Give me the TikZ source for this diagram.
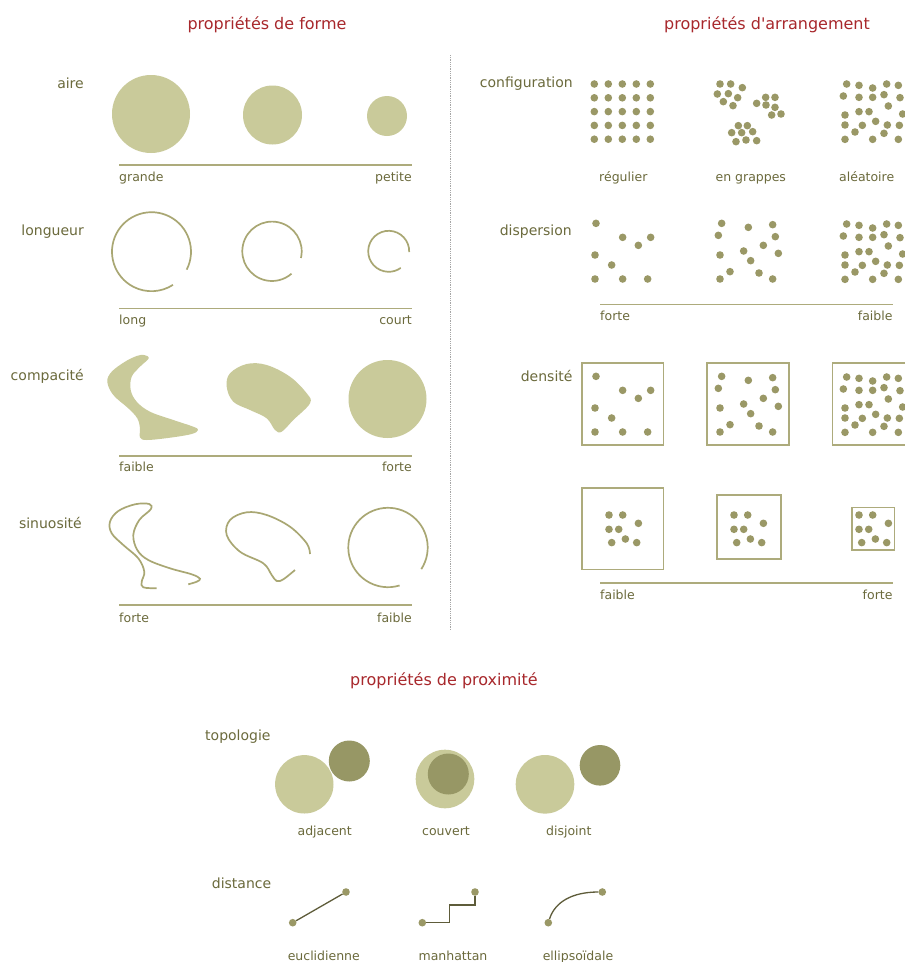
\documentclass[tikz,border=0pt]{standalone}
\usepackage{fontspec}
\setmainfont{DejaVu Sans}
\definecolor{txt}{HTML}{6B6A3C}
\definecolor{ttlc}{HTML}{A8282C}
\definecolor{lightf}{HTML}{C9CA9A}
\definecolor{dotc}{HTML}{9A9866}
\definecolor{darkf}{HTML}{979765}
\definecolor{barc}{HTML}{ADAB7C}
\definecolor{linec}{HTML}{A9A773}
\definecolor{distc}{HTML}{5E5C3A}
\newcommand\patA{%
  \foreach \p in {(80,72),(117,76),(158,84),(200,72),(235,76),(70,108),(117,112),(158,112),(192,104),(240,113),(205,138),(75,165),(117,155),(147,155),(248,162),(75,195),(127,196),(167,184),(202,195),(238,196),(105,216),(192,220),(75,238),(158,238),(235,238)}
    \fill[dotc] \p circle (3.8pt);}
\newcommand\patDone{%
  \foreach \p in {(408,70),(488,112),(572,112),(535,136),(405,165),(455,195),(405,237),(488,237),(563,237)}
    \fill[dotc] \p circle (3.8pt);}
\newcommand\patDtwo{%
  \foreach \p in {(785,70),(865,82),(938,74),(775,106),(946,110),(910,136),(851,153),(780,165),(955,160),(872,182),(810,215),(897,219),(780,237),(938,237)}
    \fill[dotc] \p circle (3.8pt);}
\newcommand\patP{%
  \foreach \p in {(-14.7,-13.8),(-1,-13.8),(14.7,-5.5),(-14.7,0.5),(-5,0.5),(-12,13.8),(1.7,10.2),(13,13.8)}
    \fill[dotc] \p circle (3.8pt);}
\begin{document}
\begin{tikzpicture}[x=1pt,y=-1pt,
  rowlab/.style={anchor=base east, text=txt, font=\fontsize{14}{16}\selectfont, inner sep=0},
  rowlabw/.style={anchor=base west, text=txt, font=\fontsize{14}{16}\selectfont, inner sep=0},
  sublab/.style={anchor=base, text=txt, font=\fontsize{12.5}{15}\selectfont, inner sep=0},
  ttl/.style={anchor=base, text=ttlc, font=\fontsize{16}{19}\selectfont, inner sep=0},
  bar/.style={draw=barc, line width=1.6pt},
  arcline/.style={draw=linec, line width=1.7pt},
  box/.style={draw=barc, line width=1.6pt},
  ddot/.style={circle, fill=dotc, inner sep=0, minimum size=7.6pt},
  dline/.style={draw=distc, line width=1.3pt}]
\fill[white] (0,0) rectangle (905,962);
\useasboundingbox (0,0) rectangle (905,962);

% titles
\node[ttl] (t1) at (267,29.3) {propriétés de forme};
\node[ttl] (t2) at (767,29.3) {propriétés d\textquotesingle arrangement};
\node[ttl] (t3) at (444,685) {propriétés de proximité};

% divider
\draw[gray!70, densely dotted, line width=0.8pt] (450,55) -- (450,630);

% ---- aire
\node[rowlab] (laire) at (84,88) {aire};
\fill[lightf] (151,114) circle (39pt);
\fill[lightf] (272.5,115) circle (29.5pt);
\fill[lightf] (387,116) circle (20pt);
\draw[bar] (119,165) -- (412,165);
\node[sublab, anchor=base west] (a1) at (119,181.5) {grande};
\node[sublab, anchor=base east] (a2) at (412,181.5) {petite};

% ---- longueur
\node[rowlab] (llong) at (84,235) {longueur};
\draw[arcline] ([shift={(-27:39.5pt)}]151.5,251.7) arc[start angle=-27, end angle=303, radius=39.5pt];
\draw[arcline] ([shift={(-13:29.7pt)}]272,251.3) arc[start angle=-13, end angle=311, radius=29.7pt];
\draw[arcline] ([shift={(-2:20.5pt)}]388.7,251.3) arc[start angle=-2, end angle=306, radius=20.5pt];
\draw[bar] (119,308.3) -- (412,308.3);
\node[sublab, anchor=base west] (b1) at (119,324.3) {long};
\node[sublab, anchor=base east] (b2) at (412,324.3) {court};

% ---- compacite
\node[rowlab] (lcomp) at (84,380.7) {compacité};
\fill[lightf] plot[smooth cycle, tension=0.6] coordinates {(144,355) (148.7,358.3) (140,366.7) (131.7,376.7) (130.7,390) (136.7,401.7) (150,411.7) (173.3,420) (193.3,426.7) (198,430) (191.7,434) (170,437.7) (146.7,440) (140,437.3) (140,428.3) (137.3,418.3) (128.3,408.3) (113.3,395) (107.3,381.7) (111.7,371.7) (125,361.7) (136.7,356)};
\fill[lightf] plot[smooth cycle, tension=0.6] coordinates {(246.7,364) (266.7,365) (290,376.7) (306.7,393.3) (310,403.3) (293.3,420) (281.7,431.7) (275,430) (266.7,418.3) (250,410) (233.3,401.7) (226.7,386.7) (230,373.3)};
\fill[lightf] (387.5,399) circle (39pt);
\draw[bar] (119,456) -- (412,456);
\node[sublab, anchor=base west] (c1) at (119,471.7) {faible};
\node[sublab, anchor=base east] (c2) at (412,471.7) {forte};

% ---- sinuosite
\node[rowlab] (lsin) at (82,528.3) {sinuosité};
\draw[arcline] plot[smooth, tension=0.6] coordinates {(156.7,588.3) (143.3,587.3) (141.7,581.7) (144.3,571.7) (138.3,558.3) (123.3,545) (111.7,533.3) (110,521.7) (118.3,511) (135,504.3) (149.3,504) (150.7,509.3) (139.3,520) (133.3,535) (137.3,550) (148.3,560) (170,568.3) (191.7,574.3) (200,578.7) (196.7,581.7) (188.3,584.3)};
\draw[arcline] plot[smooth, tension=0.6] coordinates {(310,554) (306.7,543.3) (290,526.7) (266.7,515) (246.7,512.3) (230,520) (226.7,535) (240,551.7) (263.3,563.3) (271.7,575) (276.7,581) (283.3,579.3) (295,570)};
\draw[arcline] ([shift={(-33:39.7pt)}]388,547.5) arc[start angle=-33, end angle=287, radius=39.7pt];
\draw[bar] (119,605) -- (412,605);
\node[sublab, anchor=base west] (d1) at (119,622.7) {forte};
\node[sublab, anchor=base east] (d2) at (412,622.7) {faible};

% ---- configuration
\node[rowlab] (lconf) at (573,87.3) {configuration};
\foreach \i in {0,...,4} \foreach \j in {0,...,4}
  \fill[dotc] (594.3+14*\i, 84+13.8*\j) circle (3.8pt);
\begin{scope}[shift={(460,60)}, x=0.33333pt, y=-0.33333pt]
  \foreach \p in {(780,72),(812,72),(847,83),(772,102),(805,101),(833,113),(790,125),(819,137),
                  (917,112),(945,112),(890,130),(918,135),(945,142),(935,165),(963,162),
                  (835,197),(862,197),(815,218),(845,218),(878,215),(828,245),(858,240),(890,242)}
    \fill[dotc] \p circle (3.8pt);
\end{scope}
\begin{scope}[shift={(820,60)}, x=0.33333pt, y=-0.33333pt]\patA\end{scope}
\node[sublab] (e1) at (623.3,181.7) {régulier};
\node[sublab] (e2) at (750.8,181.7) {en grappes};
\node[sublab] (e3) at (866.7,181.7) {aléatoire};

% ---- dispersion
\node[rowlab] (ldisp) at (572,235) {dispersion};
\begin{scope}[shift={(460,200)}, x=0.33333pt, y=-0.33333pt]\patDone\patDtwo\end{scope}
\begin{scope}[shift={(820,200)}, x=0.33333pt, y=-0.33333pt]\patA\end{scope}
\draw[bar] (600,304.3) -- (892.7,304.3);
\node[sublab, anchor=base west] (f1) at (600,320.7) {forte};
\node[sublab, anchor=base east] (f2) at (892.7,320.7) {faible};

% ---- densite
\node[rowlab] (ldens) at (572.7,381) {densité};
\draw[box] (581.7,362.7) rectangle (663.3,445);
\draw[box] (707,362.7) rectangle (788.7,445);
\draw[box] (832.3,362.7) rectangle (914,445);
\begin{scope}[shift={(460,353)}, x=0.33333pt, y=-0.33333pt]\patDone\patDtwo\end{scope}
\begin{scope}[shift={(820,353)}, x=0.33333pt, y=-0.33333pt]\patA\end{scope}

\draw[box] (581.7,488) rectangle (663.3,569.3);
\draw[box] (716.7,495) rectangle (780.7,559);
\draw[box] (851.7,507.3) rectangle (894.3,550);
\begin{scope}[shift={(623.7,528.8)}]\patP\end{scope}
\begin{scope}[shift={(748.7,528.8)}]\patP\end{scope}
\begin{scope}[shift={(873.7,528.8)}]\patP\end{scope}
\draw[bar] (600,582.7) -- (892.7,582.7);
\node[sublab, anchor=base west] (g1) at (600,599) {faible};
\node[sublab, anchor=base east] (g2) at (892.7,599) {forte};

% ---- topologie
\node[rowlabw] (ltopo) at (205,740.7) {topologie};
\fill[lightf] (304.3,784.3) circle (29.2pt);
\fill[darkf] (349.3,761) circle (20.5pt);
\fill[lightf] (445,779) circle (29.3pt);
\fill[darkf] (448.3,774) circle (20.5pt);
\fill[lightf] (545,784.3) circle (29.3pt);
\fill[darkf] (600,765.3) circle (20.3pt);
\node[sublab] (h1) at (324.7,835.7) {adjacent};
\node[sublab] (h2) at (446,835.7) {couvert};
\node[sublab] (h3) at (568.8,835.7) {disjoint};

% ---- distance
\node[rowlabw] (ldist) at (211.7,888.3) {distance};
\node[ddot] (eu1) at (292.7,922.7) {};
\node[ddot] (eu2) at (346,892) {};
\draw[dline] (eu1) -- (eu2);
\node[ddot] (ma1) at (422.3,922.7) {};
\node[ddot] (ma2) at (475,892) {};
\draw[dline] (ma1) -| (449.3,905) -| (ma2);
\node[ddot] (el1) at (548.3,922.7) {};
\node[ddot] (el2) at (602.3,892) {};
\draw[dline] (el1) .. controls (555,902) and (572,892) .. (el2);
\node[sublab] (k1) at (323.8,960) {euclidienne};
\node[sublab] (k2) at (453,960) {manhattan};
\node[sublab] (k3) at (578,960) {ellipsoïdale};
\end{tikzpicture}
\end{document}
